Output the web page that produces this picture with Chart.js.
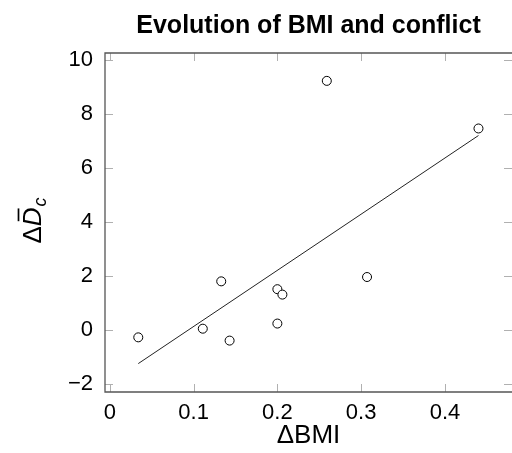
<!DOCTYPE html>
<html>
<head>
<meta charset="utf-8">
<script src="https://cdn.jsdelivr.net/npm/chart.js@4.4.0/dist/chart.umd.min.js"></script>
<style>
  html, body { margin: 0; padding: 0; background: #fff; overflow: hidden; }
  #wrap { width: 512px; height: 453px; }
</style>
</head>
<body>
<div id="wrap"><canvas id="chartBmi"></canvas></div>
<script>
const bmiChange = [0.034, 0.111, 0.133, 0.143, 0.200, 0.206, 0.200, 0.307, 0.259, 0.440];
const conflictChange = [-0.26, 0.06, 1.81, -0.38, 1.52, 1.32, 0.25, 1.97, 9.22, 7.46];

// fitted line end points
const fitX = [0.034, 0.440];
const fitY = [-1.23, 7.20];

const xTicks = [0, 0.1, 0.2, 0.3, 0.4];
const yTicks = [-2, 0, 2, 4, 6, 8, 10];

const chartTitle = "Evolution of BMI and conflict";
const xLabel = "\u0394BMI";

const FONT = "'Liberation Sans', Arial, Helvetica, sans-serif";

let points = [];
for (let i = 0; i < bmiChange.length; i++) {
    points.push({x: bmiChange[i], y: conflictChange[i]});
}
let fitLine = [];
for (let i = 0; i < fitX.length; i++) {
    fitLine.push({x: fitX[i], y: fitY[i]});
}

// frame, inward ticks, title and the y label (needs italic + subscript)
const decorations = {
    id: "decorations",
    afterDraw(chart) {
        const ctx = chart.ctx;
        const area = chart.chartArea;
        const xs = chart.scales.x;
        const ys = chart.scales.y;
        const tick = 8;

        ctx.save();
        ctx.strokeStyle = "#b0b0b0";
        ctx.lineWidth = 1;
        ctx.beginPath();
        for (let v of xTicks) {
            let px = Math.round(xs.getPixelForValue(v)) + 0.5;
            ctx.moveTo(px, area.bottom);
            ctx.lineTo(px, area.bottom - tick);
            ctx.moveTo(px, area.top);
            ctx.lineTo(px, area.top + tick);
        }
        for (let v of yTicks) {
            let py = Math.round(ys.getPixelForValue(v)) + 0.5;
            ctx.moveTo(area.left, py);
            ctx.lineTo(area.left + tick, py);
            ctx.moveTo(area.right, py);
            ctx.lineTo(area.right - tick, py);
        }
        ctx.stroke();

        // frame: the right edge falls just outside the picture
        ctx.strokeStyle = "#555555";
        ctx.lineWidth = 1.3;
        ctx.beginPath();
        ctx.moveTo(area.right + 2, area.top);
        ctx.lineTo(area.left, area.top);
        ctx.lineTo(area.left, area.bottom);
        ctx.lineTo(area.right + 2, area.bottom);
        ctx.stroke();

        // title
        ctx.fillStyle = "#000";
        ctx.font = "bold 25px " + FONT;
        ctx.textAlign = "center";
        ctx.textBaseline = "alphabetic";
        ctx.fillText(chartTitle, (area.left + area.right) / 2, 33);

        // y label: Δ D̄ _c rotated
        const cy = (area.top + area.bottom) / 2 - 2;
        ctx.translate(41, cy);
        ctx.rotate(-Math.PI / 2);
        ctx.textAlign = "left";
        const fBig = "26px " + FONT;
        const fIt = "italic 26px " + FONT;
        const fSub = "italic 18px " + FONT;
        ctx.font = fBig;
        const wDelta = ctx.measureText("\u0394").width;
        ctx.font = fIt;
        const wD = ctx.measureText("D").width;
        ctx.font = fSub;
        const wc = ctx.measureText("c").width;
        const total = wDelta + wD + wc + 1;
        let x0 = -total / 2;
        ctx.font = fBig;
        ctx.fillText("\u0394", x0, 0);
        x0 += wDelta;
        ctx.font = fIt;
        ctx.fillText("D", x0, 0);
        ctx.lineWidth = 1.7;
        ctx.strokeStyle = "#000";
        ctx.beginPath();
        ctx.moveTo(x0 + 5, -22.5);
        ctx.lineTo(x0 + wD - 1, -22.5);
        ctx.stroke();
        x0 += wD + 1;
        ctx.font = fSub;
        ctx.fillText("c", x0, 5);
        ctx.restore();
    }
};

new Chart("chartBmi", {
    type: "scatter",
    data: {
        datasets: [{
            data: points,
            pointStyle: "circle",
            pointRadius: 4.5,
            pointBorderWidth: 1,
            pointBorderColor: "#000",
            pointBackgroundColor: "#fff",
            showLine: false
        },
        {
            type: "line",
            data: fitLine,
            borderColor: "#222",
            borderWidth: 1,
            pointRadius: 0,
            fill: false
        }]
    },
    options: {
        responsive: true,
        maintainAspectRatio: false,
        animation: false,
        events: [],
        layout: {
            autoPadding: false,
            padding: {top: 53, right: 0, left: 0, bottom: 0}
        },
        plugins: {
            legend: {display: false},
            tooltip: {enabled: false},
            title: {display: false}
        },
        scales: {
            x: {
                type: "linear",
                min: -0.0057,
                max: 0.480,
                afterBuildTicks: (axis) => {
                    axis.ticks = xTicks.map(v => ({value: v}));
                },
                afterFit: (axis) => {
                    axis.height = 61;
                    axis.paddingLeft = 0;
                    axis.paddingRight = 0;
                },
                grid: {display: false},
                border: {display: false},
                ticks: {
                    color: "#000",
                    padding: 0,
                    maxRotation: 0,
                    font: {family: FONT, size: 22},
                    callback: (v) => String(Number(v.toFixed(1)))
                },
                title: {
                    display: true,
                    text: xLabel,
                    color: "#000",
                    padding: {top: 0, bottom: 2},
                    font: {family: FONT, size: 26}
                }
            },
            y: {
                type: "linear",
                min: -2.28,
                max: 10.25,
                afterBuildTicks: (axis) => {
                    axis.ticks = yTicks.map(v => ({value: v}));
                },
                afterFit: (axis) => {
                    axis.width = 105;
                    axis.paddingTop = 0;
                    axis.paddingBottom = 0;
                },
                grid: {display: false},
                border: {display: false},
                ticks: {
                    color: "#000",
                    padding: 4,
                    font: {family: FONT, size: 22},
                    callback: (v) => String(v).replace("-", "\u2212")
                }
            }
        }
    },
    plugins: [decorations]
});
</script>
</body>
</html>
